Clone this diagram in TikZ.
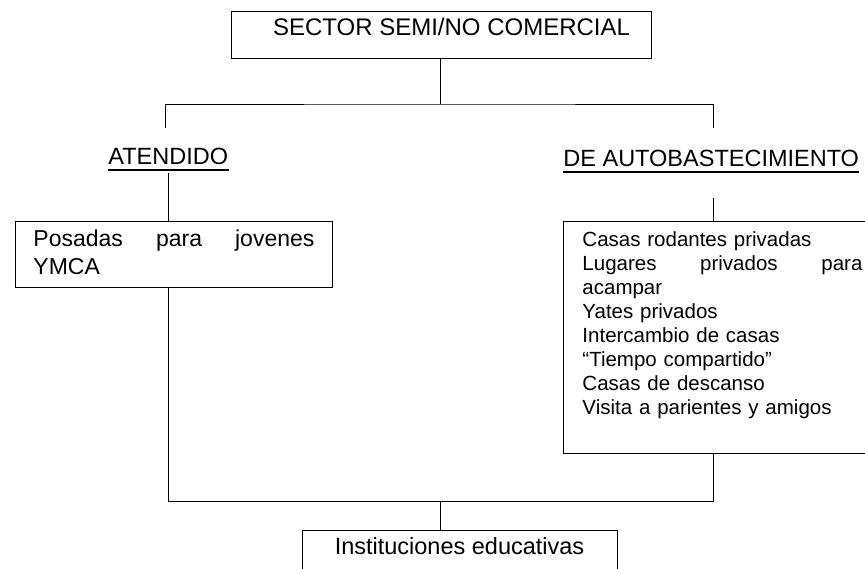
\documentclass[tikz,border=0pt]{standalone}
\usepackage{fontspec}
\setmainfont{Liberation Sans}
\begin{document}
\begin{tikzpicture}[x=10pt,y=10pt,line width=0.9pt]
		\tikzstyle{every node}+=[inner sep=0pt]
		\tikzstyle{caja}=[draw, anchor=north west, line width=1pt]
		\tikzstyle{rama}=[anchor=base west, text depth=8pt, font=\fontsize{23.5}{28}\selectfont]
		\tikzstyle{subraya}=[line width=1.4pt]
		\useasboundingbox (0,0) rectangle (86.5,-56.9);
		% cajas
		\node [caja, minimum width=420pt, minimum height=47pt] (sector) at (23.1,-1.1) {};
		\draw (45.15,-3.6) node [anchor=base, font=\fontsize{24}{28}\selectfont] (sectorTxt) {SECTOR SEMI/NO COMERCIAL};
		\node [caja, minimum width=317pt, minimum height=66pt] (posadas) at (1.5,-22.1) {};
		\draw (3.3,-24.7) node [anchor=base west, text width=281pt, align=left, font=\fontsize{23}{28}\selectfont] (posadasTxt) {Posadas\hfill para\hfill jovenes\\YMCA};
		\node [caja, minimum width=320pt, minimum height=232pt] (autob) at (56.3,-22.1) {};
		\draw (58.2,-24.7) node [anchor=base west, text width=280pt, align=left, font=\fontsize{20.5}{24}\selectfont] (autobTxt) {Casas rodantes privadas\\Lugares\hfill privados\hfill para\\acampar\\Yates privados\\Intercambio de casas\\“Tiempo compartido”\\Casas de descanso\\Visita a parientes y amigos};
		\node [caja, minimum width=315pt, minimum height=60pt] (instit) at (30.2,-53.0) {};
		\draw (45.95,-55.4) node [anchor=base, font=\fontsize{23.5}{28}\selectfont] (institTxt) {Instituciones educativas};
		% ramas
		\draw (10.8,-16.5) node [rama] (atendido) {ATENDIDO};
		\draw (56.3,-16.7) node [rama] (autoabast) {DE AUTOBASTECIMIENTO};
		\draw [subraya] ([yshift=-5pt]atendido.base west) -- ([yshift=-5pt]atendido.base east);
		\draw [subraya] ([yshift=-5pt]autoabast.base west) -- ([yshift=-5pt]autoabast.base east);
		% conectores
		\coordinate (split) at (44.0,-10.4);
		\coordinate (atTop) at (16.5,-12.8);
		\coordinate (autoTop) at (71.3,-12.8);
		\coordinate (autoStub) at (71.3,-19.8);
		\coordinate (union) at (44.0,-50.1);
		\draw (sector.south -| split) -- (split);
		\draw (atTop) |- (split) -| (autoTop);
		\draw (atendido.south) -- (atendido.south |- posadas.north);
		\draw (autoStub) -- (autoStub |- autob.north);
		\draw (posadas.south -| atendido.south) |- (union);
		\draw (autob.south -| autoStub) |- (union);
		\draw (union) -- (union |- instit.north);
	\end{tikzpicture}
\end{document}
